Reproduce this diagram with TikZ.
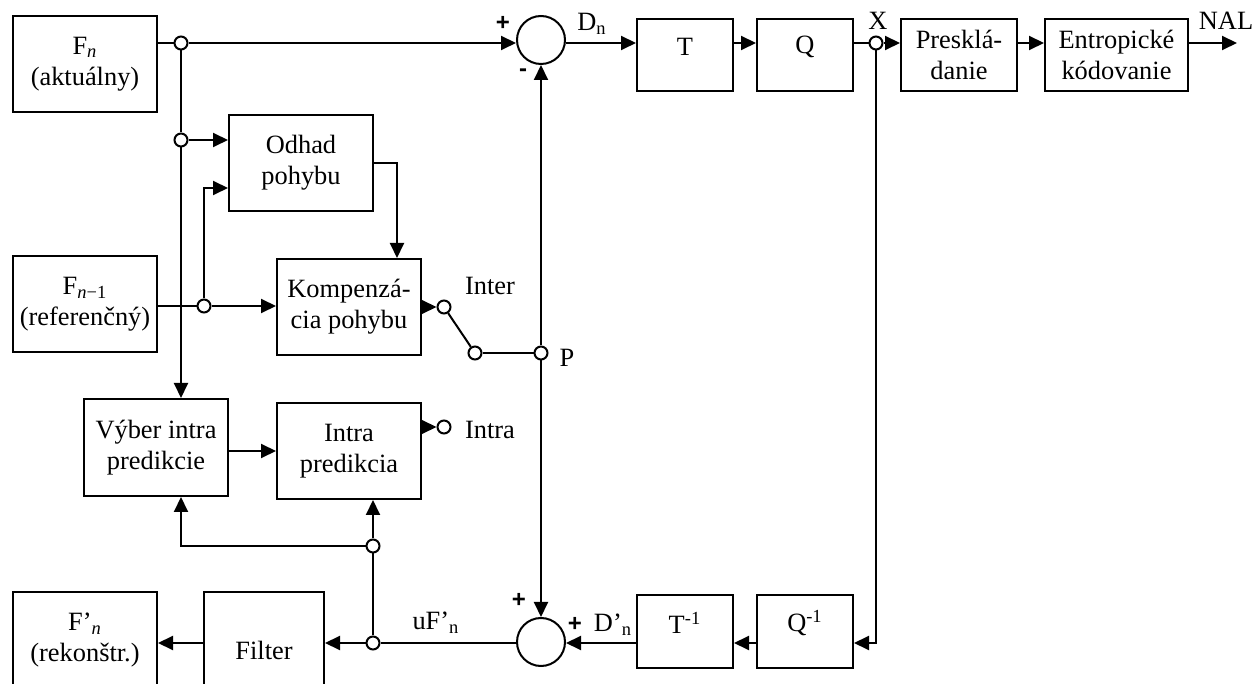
\documentclass[tikz,border=0pt]{standalone}
\usepackage{fontspec}
\setmainfont{Liberation Serif}
\setsansfont{Liberation Sans}
\usetikzlibrary{arrows.meta}
\begin{document}
\begin{tikzpicture}[
x=0.5pt,y=-0.5pt,
line width=1pt,
>={Triangle[length=7.5pt,width=7pt]},
every node/.style={font=\fontsize{13.2}{15.5}\selectfont},
block/.style={draw,align=center,inner sep=1pt,minimum width=72pt,minimum height=48pt},
small block/.style={block,minimum width=48pt,minimum height=36pt},
sum/.style={circle,draw,minimum size=24pt,inner sep=0pt},
dot/.style={circle,draw,fill=white,minimum size=6.5pt,inner sep=0pt},
sign/.style={font=\fontsize{12}{14}\sffamily\bfseries,inner sep=0pt}
]
\clip (0,0) rectangle (1255,684);
% blocks
\node[block] (fn) at (85,64) {F\textsubscript{\textit{n}}\\(aktuálny)};
\node[block] (fprev) at (85,304) {F\textsubscript{\textit{n}−1}\\(referenčný)};
\node[block] (odhad) at (301,163) {Odhad\\pohybu};
\node[block] (komp) at (349,307) {Kompenzá-\\cia pohybu};
\node[block,minimum height=48.5pt] (vyber) at (156,447.5) {Výber intra\\predikcie};
\node[block] (intra) at (349,451) {Intra\\predikcia};
\node[small block] (t) at (685,55) {\raisebox{4.25pt}[\height][\depth]{T}};
\node[small block] (q) at (805,55) {\raisebox{4.25pt}[\height][\depth]{Q}};
\node[small block,minimum width=58pt] (presk) at (959,55) {Presklá-\\danie};
\node[small block,minimum width=71.5pt] (entro) at (1116.5,55) {Entropické\\kódovanie};
\node[small block,minimum height=36.5pt] (tinv) at (685,631.5) {\raisebox{4.25pt}[\height][\depth]{T\textsuperscript{-1}}};
\node[small block,minimum height=36.5pt] (qinv) at (805,631.5) {\raisebox{4.25pt}[\height][\depth]{Q\textsuperscript{-1}}};
\node[block,minimum width=60pt,minimum height=58pt] (filter) at (264,650) {Filter};
\node[block,minimum height=48.5pt] (frec) at (85,640.5) {F’\textsubscript{\textit{n}}\\(rekonštr.)};
% sums and junctions
\node[sum] (sum1) at (541,40) {};
\node[sum] (sum2) at (541,642) {};
\node[dot] (jfn) at (181,43) {};
\node[dot] (j2) at (181,140) {};
\node[dot] (j3) at (204,306) {};
\node[dot] (xdot) at (876,43) {};
\node[dot] (interdot) at (444,307) {};
\node[dot] (swdot) at (475,353) {};
\node[dot] (pdot) at (541,353) {};
\node[dot] (intradot) at (444,427) {};
\node[dot] (jr) at (373,643) {};
\node[dot] (jf) at (373,546) {};
\coordinate (nal) at (1237,43);
\coordinate (c1) at (397,163);
% labels
\node (lnal) at (1226,21) {NAL};
\node (lx) at (878,21) {X};
\node (ldn) at (592,24) {D\textsubscript{n}};
\node[sign] (lp1) at (503,23) {+};
\node[sign] (lm1) at (523,73) {-};
\node[sign] (lp2) at (519,600) {+};
\node[sign] (lp3) at (575,624) {+};
\node (ldn2) at (613,625) {D’\textsubscript{n}};
\node (lufn) at (436,623) {uF’\textsubscript{n}};
\node (linter) at (490,286) {Inter};
\node (lintra) at (490,430) {Intra};
\node (lp) at (567,358) {P};
% forward path
\draw (fn.east |- jfn) -- (jfn);
\draw[->] (jfn) -- (sum1.west |- jfn);
\draw[->] (sum1.east |- jfn) -- (t.west |- jfn);
\draw[->] (t.east |- jfn) -- (q.west |- jfn);
\draw (q.east |- jfn) -- (xdot);
\draw[->] (xdot) -- (presk.west |- jfn);
\draw[->] (presk.east |- jfn) -- (entro.west |- jfn);
\draw[->] (entro.east |- jfn) -- (nal);
% prediction
\draw (jfn) -- (j2);
\draw[->] (j2) -- (jfn |- vyber.north);
\draw[->] (j2) -- (odhad.west |- j2);
\draw (fprev.east |- j3) -- (j3);
\draw[->] (j3) -- (komp.west |- j3);
\draw[->] (j3) |- ([yshift=-12.5pt]odhad.west);
\draw[->] (odhad.east) -- (c1) -- (c1 |- komp.north);
\draw[->] (komp.east |- interdot) -- (interdot);
\draw[->] (vyber.east |- intra.west) -- (intra.west);
\draw[->] (intra.east |- intradot) -- (intradot);
\draw (interdot) -- (swdot);
\draw (swdot) -- (pdot);
\draw[->] (pdot) -- (sum1);
\draw[->] (pdot) -- (sum2);
% reconstruction
\draw[->] (xdot) |- (qinv.east |- jr);
\draw[->] (qinv.west |- jr) -- (tinv.east |- jr);
\draw[->] (tinv.west |- jr) -- (sum2.east |- jr);
\draw (sum2.west |- jr) -- (jr);
\draw[->] (jr) -- (filter.east |- jr);
\draw[->] (filter.west |- jr) -- (frec.east |- jr);
\draw (jr) -- (jf);
\draw[->] (jf) -- (jf |- intra.south);
\draw[->] (jf) -| (jfn |- vyber.south);
\end{tikzpicture}
\end{document}
